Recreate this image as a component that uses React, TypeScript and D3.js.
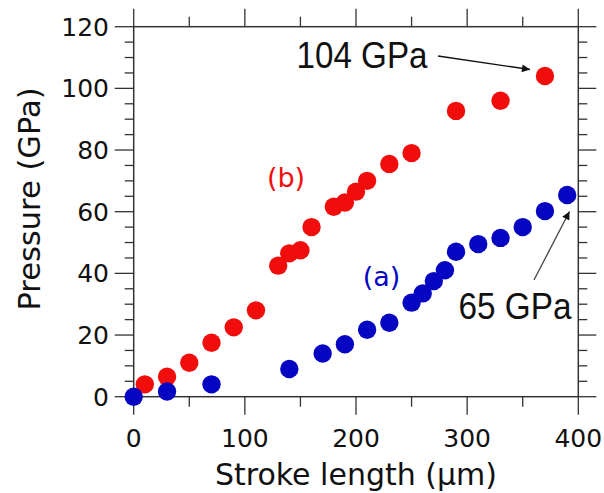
import React from "react";
import * as d3 from "d3";

const redX = [10, 30, 50, 70, 90, 110, 130, 140, 150, 160, 180, 190, 200, 210, 230, 250, 290, 330, 370];
const redY = [4, 6.5, 11, 17.5, 22.5, 28, 42.5, 46.5, 47.5, 55, 61.6, 63, 66.5, 70, 75.5, 79, 92.7, 96, 104];
const blueX = [0, 30, 70, 140, 170, 190, 210, 230, 250, 260, 270, 280, 290, 310, 330, 350, 370, 390];
const blueY = [0, 1.7, 4, 9, 14, 17, 21.7, 24, 30.5, 33.5, 37.5, 41, 47, 49.5, 51.5, 55, 60.2, 65.4];
const xMajor = [0, 100, 200, 300, 400];
const xMinor = [50, 150, 250, 350];
const yMajor = [0, 20, 40, 60, 80, 100, 120];
const yMinor = d3.range(5, 120, 5).filter((v) => v % 20 !== 0);

const W = 604;
const H = 493;

export default function App() {
  const x = d3.scaleLinear().domain([0, 400]).range([133.7, 578.3]);
  const y = d3.scaleLinear().domain([0, 120]).range([396.7, 26.7]);
  const [x0, x1] = x.range();
  const [y0, y1] = y.range();
  const axisColor = "#333";
  const red = "#f20d0d";
  const blue = "#0505c2";
  const tickFont = "DejaVu Sans, Verdana, sans-serif";
  const annFont = "Liberation Sans, Arial, sans-serif";

  return (
    <svg
      width={W}
      height={H}
      viewBox={`0 0 ${W} ${H}`}
      style={{ position: "absolute", left: 0, top: 0, background: "#fff" }}
    >
      <defs>
        <marker id="ah1" viewBox="0 0 10 10" refX="10" refY="5" markerWidth="10" markerHeight="8" markerUnits="userSpaceOnUse" orient="auto">
          <path d="M0,0 L10,5 L0,10 z" fill="#111" />
        </marker>
        <marker id="ah2" viewBox="0 0 10 10" refX="10" refY="5" markerWidth="10" markerHeight="8" markerUnits="userSpaceOnUse" orient="auto">
          <path d="M0,0 L10,5 L0,10 z" fill="#111" />
        </marker>
      </defs>
      <rect x={0} y={0} width={W} height={H} fill="#fff" />
      {/* frame */}
      <rect x={x0} y={y1} width={x1 - x0} height={y0 - y1} fill="none" stroke={axisColor} strokeWidth={1.5} />
      {/* x ticks bottom & top */}
      {xMajor.map((v) => (
        <g key={"xM" + v}>
          <line x1={x(v)} x2={x(v)} y1={y0} y2={y0 + 18} stroke={axisColor} strokeWidth={1.3} />
          <line x1={x(v)} x2={x(v)} y1={y1} y2={y1 - 18} stroke={axisColor} strokeWidth={1.3} />
          <text x={x(v)} y={446.5} textAnchor="middle" fontFamily={tickFont} fontSize={25} fill="#111">
            {v}
          </text>
        </g>
      ))}
      {xMinor.map((v) => (
        <g key={"xm" + v}>
          <line x1={x(v)} x2={x(v)} y1={y0} y2={y0 + 10} stroke={axisColor} strokeWidth={1.3} />
          <line x1={x(v)} x2={x(v)} y1={y1} y2={y1 - 10} stroke={axisColor} strokeWidth={1.3} />
        </g>
      ))}
      {yMajor.map((v) => (
        <g key={"yM" + v}>
          <line x1={x0} x2={x0 - 19} y1={y(v)} y2={y(v)} stroke={axisColor} strokeWidth={1.3} />
          <line x1={x1} x2={x1 + 18} y1={y(v)} y2={y(v)} stroke={axisColor} strokeWidth={1.3} />
          <text x={109} y={y(v)} dy="0.36em" textAnchor="end" fontFamily={tickFont} fontSize={25} fill="#111">
            {v}
          </text>
        </g>
      ))}
      {yMinor.map((v) => (
        <g key={"ym" + v}>
          <line x1={x0} x2={x0 - 9} y1={y(v)} y2={y(v)} stroke={axisColor} strokeWidth={1.3} />
          <line x1={x1} x2={x1 + 9} y1={y(v)} y2={y(v)} stroke={axisColor} strokeWidth={1.3} />
        </g>
      ))}
      {/* axis titles */}
      <text x={356} y={485} textAnchor="middle" fontFamily={tickFont} fontSize={30} fill="#111">
        Stroke length (μm)
      </text>
      <text
        transform={`translate(40,199) rotate(-90)`}
        textAnchor="middle"
        fontFamily={tickFont}
        fontSize={30.5}
        fill="#111"
      >
        Pressure (GPa)
      </text>
      {/* data */}
      {redX.map((v, i) => (
        <circle key={"r" + i} cx={x(v)} cy={y(redY[i])} r={9.2} fill={red} />
      ))}
      {blueX.map((v, i) => (
        <circle key={"b" + i} cx={x(v)} cy={y(blueY[i])} r={9.2} fill={blue} />
      ))}
      {/* series labels */}
      <text x={286} y={187} textAnchor="middle" fontFamily={tickFont} fontSize={27} fill={red}>
        (b)
      </text>
      <text x={381.5} y={286} textAnchor="middle" fontFamily={tickFont} fontSize={27} fill={blue}>
        (a)
      </text>
      {/* annotations */}
      <text x={296.5} y={67.5} fontFamily={annFont} fontSize={36} textLength={131} lengthAdjust="spacingAndGlyphs" fill="#111">
        104 GPa
      </text>
      <line x1={438} y1={56} x2={530} y2={69.5} stroke="#111" strokeWidth={1.3} markerEnd="url(#ah1)" />
      <text x={458.5} y={318.5} fontFamily={annFont} fontSize={36} textLength={113} lengthAdjust="spacingAndGlyphs" fill="#111">
        65 GPa
      </text>
      <line x1={534} y1={280} x2={569.5} y2={211.5} stroke="#444" strokeWidth={1.3} markerEnd="url(#ah2)" />
    </svg>
  );
}
